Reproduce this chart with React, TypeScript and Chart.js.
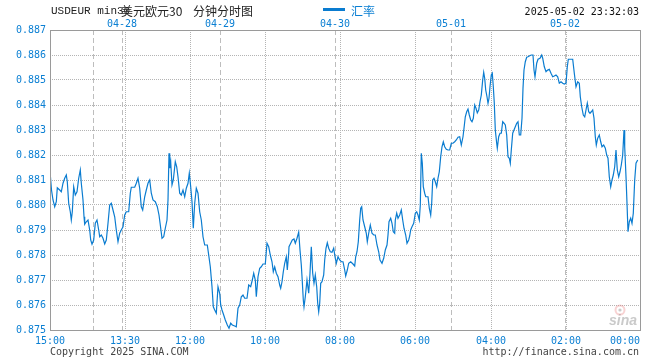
import React, { useEffect, useRef } from "react";
import { Chart, registerables } from "chart.js";

Chart.register(...registerables);

// ---- data ----
const Y_TICKS = [0.875, 0.876, 0.877, 0.878, 0.879, 0.88, 0.881, 0.882, 0.883, 0.884, 0.885, 0.886, 0.887];
const X_MIN = 0;
const X_MAX = 590;
const BOTTOM_TICK_SLOTS = [0, 75, 140, 215, 290, 365, 441, 516, 590];
const BOTTOM_TICK_LABELS = ["15:00", "13:30", "12:00", "10:00", "08:00", "06:00", "04:00", "02:00", "00:00"];
const TOP_TICK_SLOTS = [43, 72, 170, 285, 401, 515];
const TOP_TICK_LABELS = ["", "04-28", "04-29", "04-30", "05-01", "05-02"];

const TITLE_CODE = "USDEUR min30";
const TITLE_CN = "美元欧元30";
const TITLE_KIND = "分钟分时图";
const LEGEND_LABEL = "汇率";
const TIMESTAMP = "2025-05-02 23:32:03";
const COPYRIGHT = "Copyright 2025 SINA.COM";
const SITE_URL = "http://finance.sina.com.cn";
const WATERMARK = "sina";

// [time slot, rate]
const RATE_POINTS: [number, number][] = [
  [0.3, 0.8812], [1.5, 0.8806], [3, 0.8802], [4.7, 0.87993], [6.3, 0.88013], [7.3, 0.88069], [9.7, 0.8806],
  [11.3, 0.88053], [13, 0.88087], [14.7, 0.88107], [16.3, 0.8812], [17.3, 0.88093], [18.7, 0.88007],
  [20.3, 0.87973], [21.3, 0.8794], [22.3, 0.87973], [23.7, 0.88073], [25.3, 0.8804], [27, 0.88053],
  [28.7, 0.88107], [30.3, 0.8814], [31.3, 0.88087], [33, 0.8802], [34, 0.87953], [34.7, 0.87923],
  [36.3, 0.87933], [38, 0.8794], [39.7, 0.879], [40.7, 0.8786], [42, 0.87843], [43.7, 0.8786], [45.3, 0.87927],
  [47, 0.8794], [48.7, 0.879], [49.7, 0.87873], [51.3, 0.8788], [53, 0.87867], [54.7, 0.87844], [56.3, 0.8786],
  [58, 0.87927], [59.7, 0.88], [61.3, 0.88007], [63, 0.8798], [64.7, 0.87953], [66.3, 0.879], [68, 0.87853],
  [69.7, 0.87887], [71.3, 0.879], [73, 0.87913], [74.7, 0.8796], [76.3, 0.87973], [78.7, 0.87973],
  [80.3, 0.88047], [81.3, 0.88071], [84.7, 0.88071], [86.3, 0.88087], [88, 0.88107], [89.7, 0.88067],
  [91.3, 0.87993], [92.7, 0.8798], [94.7, 0.88033], [96.3, 0.8806], [98, 0.88087], [99.7, 0.881],
  [101.3, 0.88047], [103, 0.8802], [105.3, 0.88013], [107.3, 0.87993], [109, 0.8796], [110.3, 0.8792],
  [112, 0.87867], [113.7, 0.87873], [115.3, 0.87907], [117, 0.8794], [118, 0.8802],
  [119, 0.88207], [119.7, 0.88147], [120.7, 0.88173], [122, 0.8808], [123.3, 0.881], [125.3, 0.88173],
  [126.7, 0.88153], [128, 0.88113], [129.7, 0.88047], [131.3, 0.8804], [133, 0.8806], [134.7, 0.88033],
  [136.3, 0.88067], [138, 0.88087], [139.3, 0.88127], [140.7, 0.88073], [142, 0.88013], [143.3, 0.87907],
  [144.7, 0.88007], [146.3, 0.88067], [148, 0.88047], [149.7, 0.87973], [151.3, 0.8794], [153, 0.87873],
  [154.7, 0.8784], [157.3, 0.8784], [158.7, 0.878], [160.3, 0.87753], [162, 0.87673], [163.3, 0.87593],
  [164.7, 0.8758], [166.3, 0.87567], [168, 0.87673], [169.7, 0.87647], [170.7, 0.876], [172, 0.8758],
  [173.7, 0.8756], [175.3, 0.8754], [177.3, 0.8752], [179, 0.87507], [180.7, 0.87527], [182.3, 0.8752],
  [184.7, 0.87516], [186.3, 0.87513], [188, 0.87587], [189.7, 0.876], [191.3, 0.87633], [193, 0.8764],
  [194.7, 0.87627], [197, 0.87627], [198.7, 0.8768], [200.7, 0.87673], [202.3, 0.877], [203.7, 0.87727],
  [205.3, 0.877], [206.3, 0.87633], [208, 0.87713], [209.7, 0.87747], [211.3, 0.87753], [213, 0.87764],
  [215.3, 0.87764], [217, 0.87847], [218.7, 0.87833], [220.3, 0.878], [222, 0.87773], [223.3, 0.87733],
  [224.7, 0.87753], [226.3, 0.87727], [228, 0.87713], [229.7, 0.8768], [230.7, 0.87667], [232, 0.87693],
  [233.3, 0.87733], [234.7, 0.87767], [236.3, 0.87793], [237.3, 0.8774], [238.7, 0.87807],
  [239, 0.87833], [240.7, 0.87847], [242.3, 0.8786], [244, 0.87864], [245.3, 0.87847], [247, 0.87867],
  [248.7, 0.87891], [250, 0.8782], [251.3, 0.8776], [252.3, 0.87693], [253.3, 0.8762], [254, 0.87593],
  [255.3, 0.87633], [257, 0.877], [258.7, 0.87647], [260, 0.87727], [261.3, 0.87833], [262.7, 0.87727],
  [264, 0.87687], [265.3, 0.8772], [266.7, 0.87673], [267.7, 0.87607], [268.7, 0.87573], [269.7, 0.87607],
  [270.7, 0.87687], [272, 0.87693], [273.7, 0.8772], [274.7, 0.8778], [276, 0.87827], [277.3, 0.87849],
  [278.7, 0.87827], [280.3, 0.87813], [282, 0.87811], [283.7, 0.87827], [285, 0.87793], [286.3, 0.87767],
  [288, 0.87793], [289.7, 0.8778], [291.3, 0.87773], [293, 0.87773], [294.7, 0.8774], [295.7, 0.87716],
  [297.3, 0.8774], [298.7, 0.87767], [300.7, 0.87773], [303, 0.87764], [304.7, 0.87756], [305.7, 0.87793],
  [307, 0.87813], [308.3, 0.87853], [309.7, 0.8794], [310.7, 0.87987], [311.7, 0.87993], [313, 0.8794],
  [314.7, 0.87913], [316.3, 0.87887], [317.3, 0.87853], [318.7, 0.87887], [320.3, 0.8792], [322, 0.87887],
  [323.7, 0.8788], [325.3, 0.8788], [327, 0.8784], [328.7, 0.87813], [330, 0.8778], [332, 0.87767],
  [333.7, 0.87787], [335.3, 0.8782], [337, 0.8784], [338, 0.8788], [339, 0.87933], [340.7, 0.87947],
  [342, 0.87927], [343.3, 0.87893], [344.7, 0.87887], [345.3, 0.8794], [346.7, 0.87967], [348, 0.87947],
  [349.7, 0.8796], [351.3, 0.8798], [352.7, 0.8794], [354, 0.87907], [355.7, 0.8788], [357, 0.87847],
  [358.7, 0.8786], [359.7, 0.87876],
  [360.7, 0.879], [362, 0.87913], [363.7, 0.87927], [365.3, 0.87967], [366.7, 0.87973], [368, 0.8796],
  [369.3, 0.8794], [370.3, 0.88], [371.3, 0.88207], [372.3, 0.88167], [373.3, 0.88073], [374.7, 0.88047],
  [375.7, 0.88033], [378, 0.88033], [379.3, 0.87987], [380.7, 0.8796], [381.7, 0.88007], [382.7, 0.881],
  [384, 0.88107], [385.3, 0.88093], [386.7, 0.88073], [388, 0.88107], [389.3, 0.88133], [390.7, 0.88193],
  [392, 0.88233], [393.3, 0.88253], [394.7, 0.88233], [396.3, 0.88223], [398, 0.8822], [399.7, 0.8822],
  [401.3, 0.88247], [403, 0.88247], [404.7, 0.88253], [406.3, 0.8826], [408, 0.88271], [409.7, 0.88273],
  [411.3, 0.8824], [413, 0.88273], [414, 0.88307], [415.3, 0.88353], [416.7, 0.88373], [418, 0.88384],
  [419.3, 0.8836], [420.7, 0.8834], [422, 0.88333], [423.3, 0.88347], [424.7, 0.884], [426, 0.88387],
  [427.3, 0.88369], [428.7, 0.8838], [430, 0.88413], [431.3, 0.8844], [432.7, 0.885], [433.7, 0.88531],
  [434.7, 0.88507], [435.7, 0.8846], [437, 0.88433], [438, 0.88407], [439, 0.88427], [440, 0.88473],
  [441.3, 0.8852], [442.3, 0.88527], [443.3, 0.88473], [444.3, 0.88407], [445.3, 0.883], [446.7, 0.88247],
  [447.3, 0.88227], [448.7, 0.88273], [450, 0.88287], [451.3, 0.88287], [452.7, 0.88333], [454, 0.88327],
  [455.3, 0.8832], [456.7, 0.8828], [458, 0.88193], [459.3, 0.88187], [460.3, 0.88167], [461.3, 0.8822],
  [462.7, 0.88287], [464, 0.883], [465.3, 0.88313], [466.7, 0.88327], [468, 0.88333], [469.3, 0.8828],
  [470.7, 0.8828], [472, 0.88347], [473, 0.88467], [474, 0.8854], [475.3, 0.88573], [476.7, 0.88591],
  [478, 0.88593], [479.7, 0.88597],
  [481.3, 0.886], [483, 0.886], [484, 0.8854], [485, 0.88513], [486.7, 0.88567], [488, 0.88583],
  [490, 0.88587], [491.7, 0.886], [492.7, 0.88587], [494.3, 0.88553], [496, 0.88533], [497.7, 0.8854],
  [499.3, 0.88543], [501, 0.88527], [502.7, 0.88513], [504.3, 0.88516], [506, 0.8852], [507.7, 0.88513],
  [509.3, 0.88487], [511, 0.88493], [512.7, 0.88487], [514.3, 0.88484], [516, 0.88487], [517.3, 0.88553],
  [518.3, 0.88583], [522.7, 0.88583], [524.3, 0.88527], [526, 0.88473], [527.7, 0.88493], [529.3, 0.88487],
  [530.3, 0.88433], [531.7, 0.88393], [533.3, 0.8836], [534.7, 0.88353], [536, 0.8838], [537.3, 0.88407],
  [538.7, 0.88373], [540, 0.88367], [541.3, 0.88373], [542.7, 0.8838], [544, 0.88347], [545.3, 0.88273],
  [546.3, 0.8824], [547.7, 0.88267], [549.3, 0.8828], [550.7, 0.88253], [552, 0.88233], [553.7, 0.8824],
  [555.3, 0.88227], [556.7, 0.882], [558, 0.88187], [559.3, 0.88113], [560.7, 0.88073], [562, 0.881],
  [563.3, 0.8812], [564.7, 0.88153], [566, 0.8822], [567.3, 0.8814], [568.7, 0.88113], [570, 0.88133],
  [571.3, 0.8816], [572.7, 0.882], [574, 0.883], [574.7, 0.88233], [576, 0.88113], [577, 0.88007],
  [578, 0.87893], [579.3, 0.87933], [580.7, 0.87947], [582, 0.87927], [583.3, 0.87967], [584.7, 0.881],
  [586, 0.88167], [587.7, 0.8818],
];

// ---- style ----
const BLUE = "#0a7fd3";
const LINE_BLUE = "#0a7cd0";
const MONO = "'DejaVu Sans Mono', monospace";
const CJK = "'Noto Sans CJK SC', sans-serif";
const GRID = "#b4b4b4";

const decorPlugin = {
  id: "decor",
  beforeDraw(chart: any) {
    const { ctx, width, height } = chart;
    ctx.save();
    ctx.fillStyle = "#ffffff";
    ctx.fillRect(0, 0, width, height);
    ctx.restore();
  },
  afterDraw(chart: any) {
    const { ctx, chartArea: a } = chart;
    ctx.save();
    // frame
    ctx.strokeStyle = "#9a9a9a";
    ctx.lineWidth = 1;
    ctx.setLineDash([]);
    ctx.strokeRect(a.left + 0.5, a.top + 0.5, a.right - a.left, a.bottom - a.top);

    // header
    ctx.textBaseline = "middle";
    ctx.textAlign = "left";
    ctx.fillStyle = "#222";
    ctx.font = "11px 'Liberation Mono', monospace";
    ctx.fillText(TITLE_CODE, a.left + 1, 11);
    ctx.font = "12px " + CJK;
    ctx.fillText(TITLE_CN, a.left + 71, 11);
    ctx.fillText(TITLE_KIND, a.left + 143, 11);

    // legend
    ctx.fillStyle = LINE_BLUE;
    ctx.fillRect(a.left + 273, 8, 22, 3);
    ctx.fillStyle = BLUE;
    ctx.font = "12px " + CJK;
    ctx.fillText(LEGEND_LABEL, a.left + 301, 11);

    // timestamp
    ctx.fillStyle = "#111";
    ctx.font = "10px " + MONO;
    ctx.textAlign = "right";
    ctx.fillText(TIMESTAMP, a.right - 1, 12);

    // footer
    ctx.fillStyle = "#444";
    ctx.textAlign = "left";
    ctx.fillText(COPYRIGHT, a.left, 352);
    ctx.textAlign = "right";
    ctx.fillText(SITE_URL, a.right - 1, 352);

    // watermark
    ctx.strokeStyle = "rgba(236,130,130,0.35)";
    ctx.lineWidth = 2;
    ctx.beginPath();
    ctx.arc(a.right - 20, a.bottom - 20, 4.5, 0, Math.PI * 2);
    ctx.stroke();
    ctx.fillStyle = "rgba(150,150,150,0.5)";
    ctx.beginPath();
    ctx.arc(a.right - 20, a.bottom - 20, 1.6, 0, Math.PI * 2);
    ctx.fill();
    ctx.font = "italic bold 14px 'Liberation Sans', sans-serif";
    ctx.textAlign = "right";
    ctx.textBaseline = "alphabetic";
    ctx.fillText(WATERMARK, a.right - 3, a.bottom - 5);
    ctx.restore();
  },
};

export default function App() {
  const canvasRef = useRef<HTMLCanvasElement | null>(null);

  useEffect(() => {
    if (!canvasRef.current) return;
    const lastBottom = BOTTOM_TICK_SLOTS.length - 1;
    const chart = new Chart(canvasRef.current, {
      type: "line",
      data: {
        datasets: [
          {
            label: LEGEND_LABEL,
            data: RATE_POINTS.map(([t, v]) => ({ x: t, y: v })),
            borderColor: LINE_BLUE,
            borderWidth: 1.2,
            pointRadius: 0,
            tension: 0,
            fill: false,
          },
        ],
      },
      options: {
        responsive: false,
        animation: false,
        events: [],
        layout: { padding: { left: 0, right: 20, top: 0, bottom: 0 } },
        plugins: { legend: { display: false }, tooltip: { enabled: false }, title: { display: false } },
        scales: {
          x: {
            type: "linear",
            position: "bottom",
            min: X_MIN,
            max: X_MAX,
            afterBuildTicks: (s: any) => {
              s.ticks = BOTTOM_TICK_SLOTS.map((v) => ({ value: v }));
            },
            afterFit: (s: any) => {
              s.height = 30;
              s.paddingLeft = 0;
              s.paddingRight = 0;
            },
            ticks: {
              autoSkip: false,
              maxRotation: 0,
              minRotation: 0,
              color: BLUE,
              font: { family: MONO, size: 10 },
              padding: 5,
              callback: (_v: any, i: number) =>
                i === lastBottom ? BOTTOM_TICK_LABELS[i] + "     " : BOTTOM_TICK_LABELS[i],
            },
            grid: {
              drawTicks: false,
              lineWidth: 1,
              color: (c: any) => (c.index === 0 || c.index === lastBottom ? "rgba(0,0,0,0)" : GRID),
            },
            border: { display: false, dash: [1, 1] },
          },
          xTop: {
            type: "linear",
            position: "top",
            min: X_MIN,
            max: X_MAX,
            afterBuildTicks: (s: any) => {
              s.ticks = TOP_TICK_SLOTS.map((v) => ({ value: v }));
            },
            afterFit: (s: any) => {
              s.height = 30;
              s.paddingLeft = 0;
              s.paddingRight = 0;
            },
            ticks: {
              autoSkip: false,
              maxRotation: 0,
              minRotation: 0,
              color: BLUE,
              font: { family: MONO, size: 10 },
              padding: 0,
              callback: (_v: any, i: number) => TOP_TICK_LABELS[i],
            },
            grid: { drawTicks: false, lineWidth: 1, color: "#bdbdbd" },
            border: { display: false, dash: [5, 3] },
          },
          y: {
            type: "linear",
            position: "left",
            min: Y_TICKS[0],
            max: Y_TICKS[Y_TICKS.length - 1],
            afterBuildTicks: (s: any) => {
              s.ticks = Y_TICKS.map((v) => ({ value: v }));
            },
            afterFit: (s: any) => {
              s.width = 50;
              s.paddingTop = 0;
              s.paddingBottom = 0;
            },
            ticks: {
              autoSkip: false,
              color: BLUE,
              font: { family: MONO, size: 10 },
              padding: 4,
              callback: (v: any) => Number(v).toFixed(3),
            },
            grid: {
              drawTicks: false,
              lineWidth: 1,
              color: (c: any) =>
                c.index === 0 || c.index === Y_TICKS.length - 1 ? "rgba(0,0,0,0)" : GRID,
            },
            border: { display: false, dash: [1, 1] },
          },
        },
      } as any,
      plugins: [decorPlugin],
    });
    return () => chart.destroy();
  }, []);

  return (
    <div style={{ position: "fixed", left: 0, top: 0, width: 660, height: 360, background: "#fff" }}>
      <canvas ref={canvasRef} width={660} height={360} style={{ display: "block", width: 660, height: 360 }} />
    </div>
  );
}
